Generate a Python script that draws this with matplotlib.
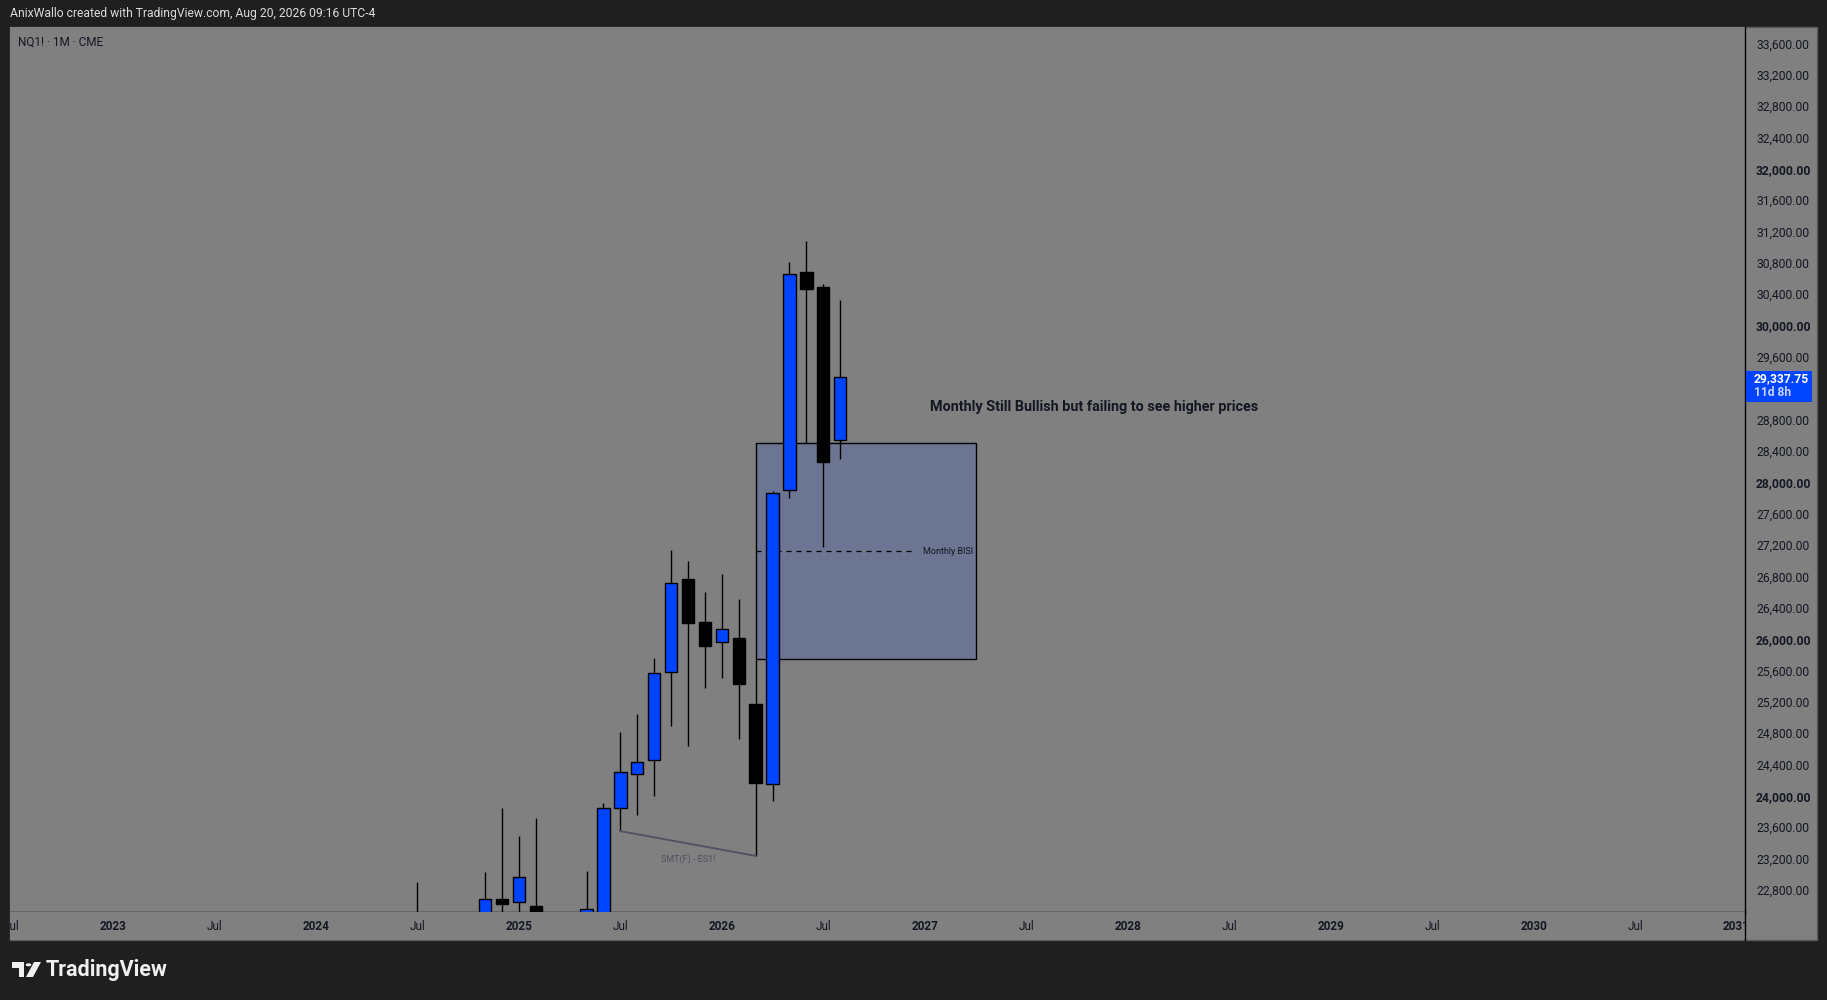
import numpy as np
import matplotlib
matplotlib.use("Agg")
import matplotlib.pyplot as plt
from matplotlib.patches import Rectangle, Polygon, Circle

plt.rcParams['font.family'] = ['Roboto', 'DejaVu Sans']

# monthly NQ1! candles (parts below the visible range estimated)
months = ['2024-07', '2024-11', '2024-12', '2025-01', '2025-02', '2025-05', '2025-06',
          '2025-07', '2025-08', '2025-09', '2025-10', '2025-11', '2025-12', '2026-01',
          '2026-02', '2026-03', '2026-04', '2026-05', '2026-06', '2026-07', '2026-08']
opens  = [22350, 22350, 22685, 22650, 22595, 22250, 22300, 23840, 24275, 24455, 25575,
          26765, 26215, 25960, 26010, 25170, 24150, 27900, 30680, 30490, 28535]
highs  = [22900, 23030, 23845, 23490, 23720, 23040, 23905, 24815, 25045, 25760, 27135,
          27000, 26600, 26830, 26510, 25740, 27890, 30805, 31080, 30525, 30325]
lows   = [22050, 22150, 22300, 22350, 21900, 22000, 22150, 23550, 23750, 24005, 24895,
          24635, 25380, 25510, 24730, 23235, 23940, 27805, 28500, 27180, 28300]
closes = [22200, 22680, 22625, 22960, 22150, 22555, 23840, 24300, 24430, 25565, 26710,
          26210, 25915, 26125, 25430, 24170, 27860, 30655, 30470, 28265, 29337.75]

# monthly BISI zone
bisi_start, bisi_end = '2026-03', '2027-04'
bisi_top, bisi_bottom = 28500, 25740

# SMT divergence line between two lows
smt_from, smt_to = '2025-07', '2026-03'

price_ticks = [22800, 23200, 23600, 24000, 24400, 24800, 25200, 25600, 26000, 26400,
               26800, 27200, 27600, 28000, 28400, 28800, 29600, 30000, 30400, 30800,
               31200, 31600, 32000, 32400, 32800, 33200, 33600]
time_labels = ['Jul', '2023', 'Jul', '2024', 'Jul', '2025', 'Jul', '2026', 'Jul',
               '2027', 'Jul', '2028', 'Jul', '2029', 'Jul', '2030', 'Jul', '2031']
time_label_months = ['2022-07', '2023-01', '2023-07', '2024-01', '2024-07', '2025-01',
                     '2025-07', '2026-01', '2026-07', '2027-01', '2027-07', '2028-01',
                     '2028-07', '2029-01', '2029-07', '2030-01', '2030-07', '2031-01']


def midx(s):
    y, m = s.split('-')
    return (int(y) - 2023) * 12 + int(m) - 1


BG = '#808080'
DARK = '#1f1f1f'
BLUE = '#0044ff'
TXT = '#131722'

W, H = 1827, 1000
fig = plt.figure(figsize=(W / 100, H / 100), dpi=100, facecolor=DARK)

# chart panel background
fig.add_artist(Rectangle((10 / W, 60 / H), 1807 / W, 913 / H, transform=fig.transFigure,
                         facecolor=BG, edgecolor='#5a5a5a', lw=1, zorder=0))

ax = fig.add_axes([10 / W, 88 / H, 1735 / W, 885 / H])
ax.set_facecolor(BG)
ax.set_xlim(-6.09, 96.5)
ax.set_ylim(22519, 33808)

x = np.array([midx(m) for m in months])
o = np.array(opens)
h = np.array(highs)
l = np.array(lows)
c = np.array(closes)
up = c >= o

# box behind candles
b0 = midx(bisi_start)
b1 = midx(bisi_end)
ax.add_patch(Rectangle((b0, bisi_bottom), b1 - b0, bisi_top - bisi_bottom,
                       facecolor='#6c7592', edgecolor='black', lw=1, zorder=1))
mid = (bisi_top + bisi_bottom) / 2
ax.plot([b0, b0 + 0.72 * (b1 - b0)], [mid, mid], color='black', lw=0.9,
        ls=(0, (4, 4)), zorder=1.5)
ax.text(b1 - 0.15, mid, 'Monthly BISI', ha='right', va='center', fontsize=6.5,
        color=TXT, zorder=1.5)

# candles
ax.vlines(x, l, h, color='black', lw=1.0, zorder=2)
ax.bar(x, np.abs(c - o), bottom=np.minimum(o, c), width=0.73,
       color=np.where(up, BLUE, 'black'), edgecolor='black', lw=1.0, zorder=3)

# SMT line
i0 = months.index(smt_from)
i1 = months.index(smt_to)
ax.plot([x[i0], x[i1]], [l[i0], l[i1]], color='#4e5262', lw=1.3, zorder=2.5)
ax.text((x[i0] + x[i1]) / 2, min(l[i0], l[i1]) - 40, 'SMT(F) - ES1!', ha='center',
        va='center', fontsize=6.5, color='#4e5262')

ax.text(58, 28960, 'Monthly Still Bullish but failing to see higher prices',
        ha='center', va='center', fontsize=10.4, fontweight='bold', color=TXT)

# axes styling
for s in ['left', 'top']:
    ax.spines[s].set_visible(False)
for s in ['right', 'bottom']:
    ax.spines[s].set_color('black')
    ax.spines[s].set_linewidth(1)
ax.set_xticks([])
ax.yaxis.tick_right()
ax.set_yticks(price_ticks)
ax.set_yticklabels(['{:,.2f}'.format(p) for p in price_ticks])
ax.tick_params(axis='y', length=0, pad=8, labelsize=8.7, labelcolor=TXT)
for lab, p in zip(ax.get_yticklabels(), price_ticks):
    if p % 2000 == 0:
        lab.set_fontweight('bold')

# time scale strip
axt = fig.add_axes([10 / W, 60 / H, 1735 / W, 28 / H])
axt.set_facecolor(BG)
axt.set_xlim(ax.get_xlim())
axt.set_ylim(0, 1)
axt.set_xticks([])
axt.set_yticks([])
for s in ['left', 'top', 'bottom']:
    axt.spines[s].set_visible(False)
axt.spines['right'].set_color('black')
axt.spines['right'].set_linewidth(1)
for lab, m in zip(time_labels, time_label_months):
    axt.text(midx(m), 0.5, lab, ha='center', va='center', fontsize=8.5, color=TXT,
             fontweight='bold' if lab != 'Jul' else 'normal', clip_on=True)

# last price label
last_y = ax.transData.transform((0, closes[-1]))[1]
fig.add_artist(Rectangle((1746 / W, (last_y - 25) / H), 66 / W, 31 / H,
                         transform=fig.transFigure, facecolor=BLUE, edgecolor='none', zorder=5))
fig.text(1754 / W, (last_y - 1) / H, '{:,.2f}'.format(closes[-1]), ha='left', va='center',
         fontsize=8.7, fontweight='bold', color='white', zorder=6)
fig.text(1754 / W, (last_y - 15) / H, '11d 8h', ha='left', va='center',
         fontsize=8.7, fontweight='bold', color='#c8d4ff', zorder=6)

# header texts
fig.text(10 / W, 1 - 14 / H, 'AnixWallo created with TradingView.com, Aug 20, 2026 09:16 UTC-4',
         ha='left', va='center', fontsize=8.75, color='#dcdcdc')
fig.text(18 / W, 1 - 42 / H, 'NQ1! \u00b7 1M \u00b7 CME', ha='left', va='center',
         fontsize=8.5, color=TXT)

# TradingView logo
def fp(px, py):
    return (px / W, 1 - py / H)

fig.add_artist(Polygon([fp(11.5, 962), fp(24, 962), fp(24, 977), fp(18.5, 977),
                        fp(18.5, 967.5), fp(11.5, 967.5)], closed=True,
                       transform=fig.transFigure, facecolor='#f0f0f0', edgecolor='none'))
fig.add_artist(Circle(fp(28.5, 964.8), 2.8 / W, transform=fig.transFigure,
                      facecolor='#f0f0f0', edgecolor='none'))
fig.add_artist(Polygon([fp(34, 962), fp(41, 962), fp(33, 977), fp(26, 977)], closed=True,
                       transform=fig.transFigure, facecolor='#f0f0f0', edgecolor='none'))
fig.text(46 / W, 1 - 970 / H, 'TradingView', ha='left', va='center', fontsize=15.5,
         fontweight='semibold', color='#f0f0f0')

fig.savefig('out.png', dpi=100, facecolor=DARK)
